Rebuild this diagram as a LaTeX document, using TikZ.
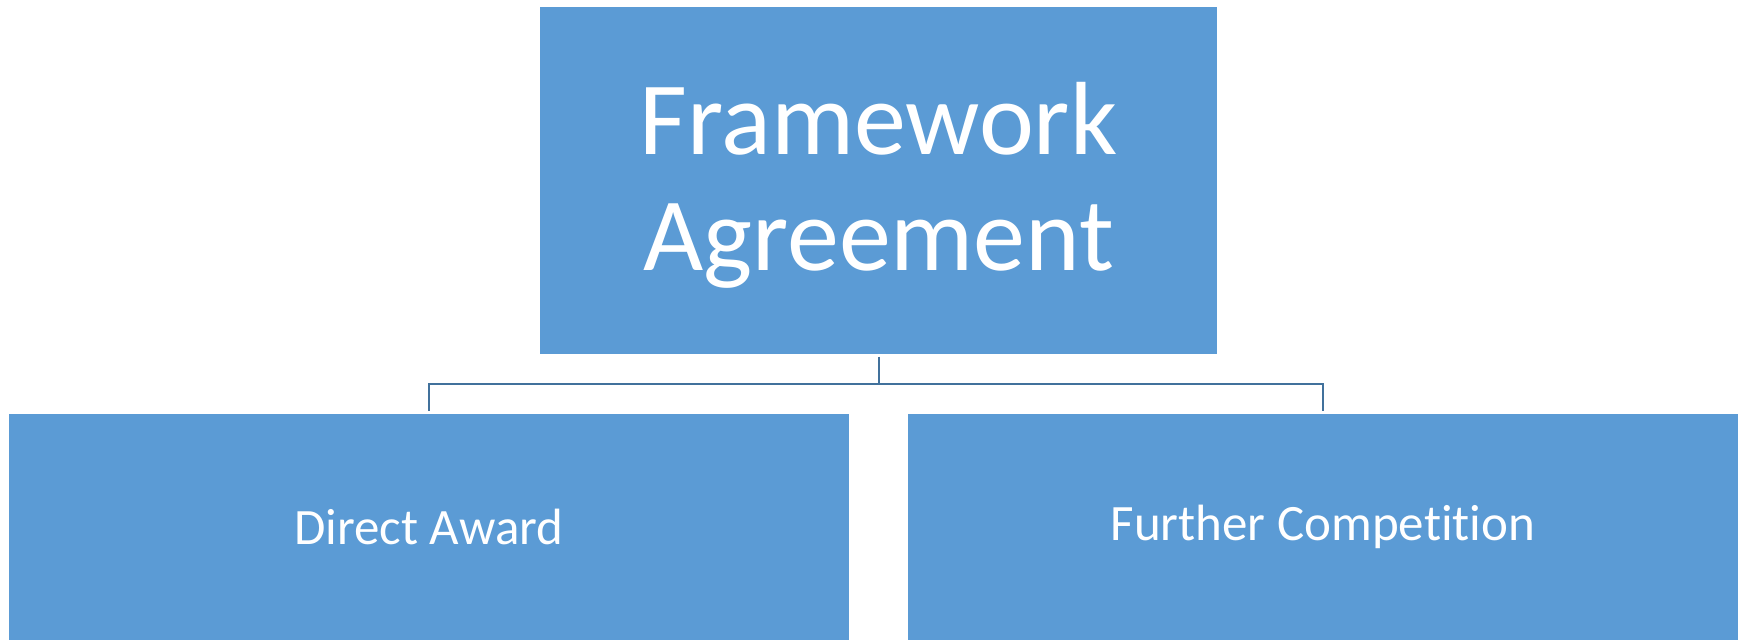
\documentclass[tikz,border=0pt]{standalone}
\usepackage{fontspec}
\setmainfont{Carlito}[Ligatures=NoCommon]
\usepackage{tikz}
\definecolor{boxblue}{HTML}{5B9BD5}
\definecolor{linkblue}{HTML}{41719C}
\tikzstyle{block}=[fill=boxblue, text=white, inner sep=0, outer sep=0, align=center]
\tikzstyle{topblock}=[block, minimum width=677pt, minimum height=347pt,
                      font=\fontsize{104}{116}\selectfont]
\tikzstyle{subblock}=[block, minimum height=226pt, font=\fontsize{51}{60}\selectfont]
\tikzstyle{link}=[draw=linkblue, line width=2pt]

\begin{document}
\begin{tikzpicture}[x=1pt, y=-1pt]
    \useasboundingbox (0, 0) rectangle (1738, 640);
    % strut on the first line pushes the text a little lower
    \node[topblock] (FA) at (878.5, 180.5) {\rule{0pt}{82pt}Framework\\Agreement};
    \node[subblock, minimum width=840pt] (DA) at (429, 527) {Direct Award};
    \node[subblock, minimum width=830pt] (FC) at (1323, 527) {Further Competition};
    % branch point under the top box
    \coordinate (fork) at (878.5, 384);
    \draw[link, shorten <=2.5pt] (FA.south) -- (fork);
    \draw[link, shorten >=3pt] (fork) -| (DA.north);
    \draw[link, shorten >=3pt] (fork) -| (FC.north);
\end{tikzpicture}
\end{document}
